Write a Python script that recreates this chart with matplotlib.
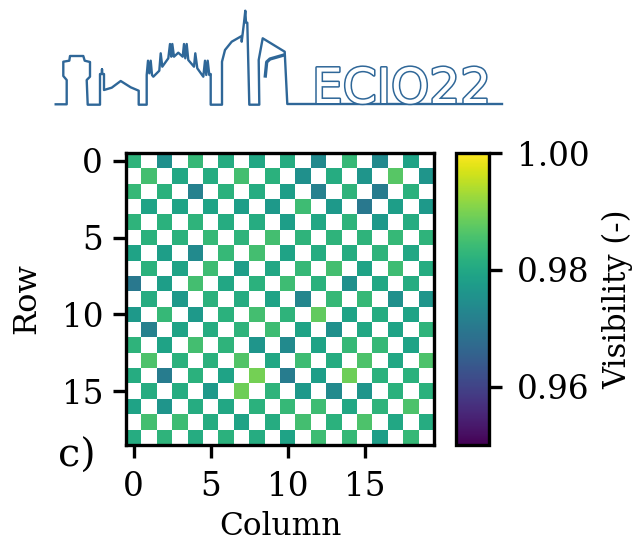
import numpy as np
import matplotlib
matplotlib.use("Agg")
import matplotlib.pyplot as plt
import matplotlib.patheffects as pe

# visibility of the occupied sites, row by row (the other sites are empty)
row0 = [.9825, .975, .9835, .981, .980, .981, .974, .9835, .974, .979]
row1 = [.985, .980, .981, .985, .982, .975, .981, .976, .987, .976]
row2 = [.9835, .982, .972, .982, .981, .978, .972, .9825, .971, .982]
row3 = [.979, .979, .979, .978, .977, .9845, .977, .970, .978, .977]
row4 = [.9825, .982, .9825, .981, .981, .978, .980, .9825, .977, .981]
row5 = [.982, .982, .9835, .9825, .985, .9825, .9825, .9825, .9835, .9825]
row6 = [.979, .978, .974, .9835, .985, .979, .981, .981, .9825, .980]
row7 = [.982, .979, .9845, .978, .980, .9835, .985, .979, .9845, .981]
row8 = [.970, .978, .985, .980, .982, .9845, .982, .975, .980, .981]
row9 = [.981, .977, .982, .981, .979, .973, .9835, .9835, .975, .976]
row10 = [.977, .9835, .977, .982, .985, .9825, .988, .979, .981, .979]
row11 = [.972, .979, .981, .9825, .9845, .979, .975, .980, .979, .9825]
row12 = [.9825, .979, .985, .9825, .976, .974, .979, .9835, .9835, .979]
row13 = [.986, .982, .982, .9865, .980, .9845, .981, .986, .980, .986]
row14 = [.981, .971, .982, .979, .9895, .971, .978, .989, .982, .982]
row15 = [.981, .981, .977, .989, .9825, .977, .974, .976, .982, .982]
row16 = [.979, .976, .981, .980, .982, .9835, .9845, .980, .9825, .986]
row17 = [.985, .9845, .981, .979, .981, .985, .982, .986, .980, .981]
row18 = [.981, .9825, .981, .982, .981, .979, .9845, .9835, .978, .9835]
rows = [row0, row1, row2, row3, row4, row5, row6, row7, row8, row9, row10,
        row11, row12, row13, row14, row15, row16, row17, row18]

# logo outline, picture pixels
skylineX = [55.7, 66.7, 66.7, 63.3, 63.3, 69.3, 70, 83.3, 84.7, 90, 90, 86.7, 87.7, 100, 100, 102, 102,
            102, 104, 104, 111.7, 120.7, 130.7, 138.7, 138.7, 146.7, 146.7, 148, 149.3, 150.7, 152,
            153.3, 159.3, 160.7, 162.3, 168.3, 170, 171.3, 172.3, 174, 178.3, 182.7, 184, 185.3,
            186.7, 188.3, 194, 195.3, 197.3, 203.3, 205, 206.3, 207.7, 209.3, 210.7, 210.7, 222,
            222, 225, 231.7, 241.7, 241.7, 244, 245.3, 246, 247.3, 249.3, 259.3, 258.7, 262.7,
            284.7, 287.3, 313, 502]
skylineY = [104.3, 104.3, 80, 76, 61.7, 60.7, 56, 56, 60.7, 62, 76.7, 80, 104.7, 104.7, 74, 74, 69.3,
            74, 74, 90, 87.7, 81, 87.3, 90.7, 104.7, 104.7, 75, 60.7, 73.3, 60.7, 75,
            76.7, 70.7, 53.3, 66.7, 58.3, 44, 56.7, 44, 56.7, 52.7, 56.7, 44, 58.3,
            44, 60, 66.7, 53.3, 68.3, 76.7, 60.7, 75, 60.7, 75, 74, 104.7, 104.7,
            61.7, 50, 41.7, 36, 41.7, 22.7, 10.7, 22.7, 22.7, 104.7, 104.7, 60, 38.3,
            51.7, 104, 104, 104]
wingX = [265.3, 266.7, 270, 284]
wingY = [76, 62, 59, 55]

logoBlue = "#2f6798"

fig = plt.figure(figsize=(6.32, 5.43), dpi=100)
plt.rcParams["font.family"] = "DejaVu Serif"

logo = fig.add_axes([0, 0, 1, 1])
logo.set_xlim(0, 632)
logo.set_ylim(543, 0)
logo.axis("off")
logo.plot(skylineX, skylineY, color=logoBlue, lw=1.7, solid_joinstyle="round")
logo.plot(wingX, wingY, color=logoBlue, lw=2.4)
logo.text(312, 103, "ECIO22", family="DejaVu Sans", fontsize=35, color="white", va="baseline",
          path_effects=[pe.withStroke(linewidth=2.2, foreground=logoBlue)])

grid = np.full((19, 20), np.nan)
for r, values in enumerate(rows):
    grid[r, (r % 2)::2] = values

ax = fig.add_axes([126 / 632, 1 - 445 / 543, 308 / 632, 292 / 543])
im = ax.imshow(grid, cmap="viridis", vmin=0.95, vmax=1.0, aspect="auto")
ax.set_xticks([0, 5, 10, 15])
ax.set_yticks([0, 5, 10, 15])
ax.tick_params(labelsize=23.5, width=2.4, length=9.5, pad=7)
ax.tick_params(axis="x", pad=9)
for s in ax.spines.values():
    s.set_linewidth(2.4)
ax.set_xlabel("Column", fontsize=22.5, labelpad=6)
ax.set_ylabel("Row", fontsize=23, labelpad=14)

cax = fig.add_axes([456 / 632, 1 - 445 / 543, 33 / 632, 292 / 543])
cb = fig.colorbar(im, cax=cax)
cb.set_ticks([0.96, 0.98, 1.0], labels=["0.96", "0.98", "1.00"])
cb.ax.tick_params(labelsize=23.5, width=2.4, length=9.5, pad=10.5)
cb.outline.set_linewidth(2.4)
cb.set_label("Visibility (-)", fontsize=22, labelpad=9)

fig.text(58 / 632, 1 - 467 / 543, "c)", fontsize=28.5)

fig.savefig("out.png", dpi=100)
